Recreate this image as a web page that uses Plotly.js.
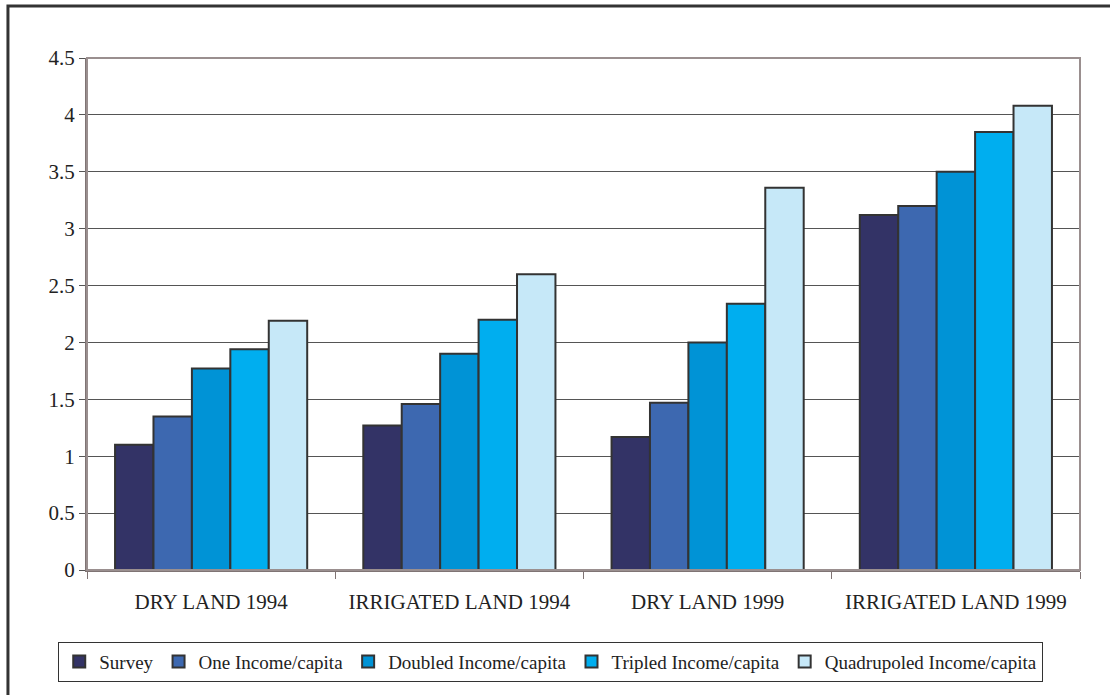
<!DOCTYPE html>
<html>
<head>
<meta charset="utf-8">
<script src="https://cdn.plot.ly/plotly-3.0.1.min.js"></script>
<style>
  html, body { margin: 0; padding: 0; background: #fff; }
  #chart { width: 1110px; height: 695px; }
</style>
</head>
<body>
<div id="chart"></div>
<script>
const categories = ["DRY LAND 1994", "IRRIGATED LAND 1994", "DRY LAND 1999", "IRRIGATED LAND 1999"];
const seriesNames = ["Survey", "One Income/capita", "Doubled Income/capita", "Tripled Income/capita", "Quadrupoled Income/capita"];
const survey     = [1.10, 1.27, 1.17, 3.12];
const oneIncome  = [1.35, 1.46, 1.47, 3.20];
const doubled    = [1.77, 1.90, 2.00, 3.50];
const tripled    = [1.94, 2.20, 2.34, 3.85];
const quadrupled = [2.19, 2.60, 3.36, 4.08];
const yTicks = [0, 0.5, 1, 1.5, 2, 2.5, 3, 3.5, 4, 4.5];
const yTickText = ["0", "0.5", "1", "1.5", "2", "2.5", "3", "3.5", "4", "4.5"];

const seriesValues = [survey, oneIncome, doubled, tripled, quadrupled];
const colors = ["#333366", "#3D68B0", "#0093D6", "#00AEEF", "#C6E8F8"];

const traces = seriesValues.map((vals, i) => ({
  type: "bar",
  name: seriesNames[i],
  x: categories,
  y: vals,
  marker: { color: colors[i], line: { color: "#333333", width: 2 } }
}));

const FAM = "Liberation Serif";
const FS = 21;

const layout = {
  width: 1110, height: 695,
  margin: { l: 87, r: 30, t: 58, b: 125, pad: 0 },
  paper_bgcolor: "#ffffff",
  plot_bgcolor: "#ffffff",
  font: { family: FAM, size: FS, color: "#222222" },
  barmode: "group",
  bargap: 0.226,
  bargroupgap: 0,
  showlegend: true,
  legend: {
    orientation: "h",
    x: 0.467, xanchor: "center",
    y: -0.14, yanchor: "top",
    bordercolor: "#333333", borderwidth: 1,
    font: { family: FAM, size: 19, color: "#222222" },
    itemwidth: 30,
    tracegroupgap: 0
  },
  xaxis: {
    type: "category",
    tickson: "boundaries",
    ticks: "outside", ticklen: 7, tickcolor: "#7f7474", tickwidth: 1,
    showline: true, linecolor: "#7f7474", linewidth: 2,
    showgrid: false,
    tickfont: { family: FAM, size: FS, color: "#222222" },
    ticklabelstandoff: 12
  },
  yaxis: {
    range: [0, 4.5],
    tickmode: "array", tickvals: yTicks, ticktext: yTickText,
    ticks: "outside", ticklen: 6, tickcolor: "#555555", tickwidth: 1,
    showline: true, linecolor: "#7f7474", linewidth: 2,
    showgrid: true, gridcolor: "#555555", gridwidth: 1,
    zeroline: false,
    tickfont: { family: FAM, size: FS, color: "#222222" }
  },
  shapes: [
    { type: "rect", xref: "paper", yref: "paper", x0: 0, x1: 1, y0: 0, y1: 1,
      line: { color: "#9a8f8f", width: 2 }, fillcolor: "rgba(0,0,0,0)", layer: "above" },
    { type: "rect", xref: "paper", yref: "paper", x0: -0.0796, x1: 1.05, y0: -0.3, y1: 1.1016,
      line: { color: "#333333", width: 3 }, fillcolor: "rgba(0,0,0,0)" }
  ]
};

Plotly.newPlot("chart", traces, layout, { displayModeBar: false, staticPlot: true });
</script>
</body>
</html>
